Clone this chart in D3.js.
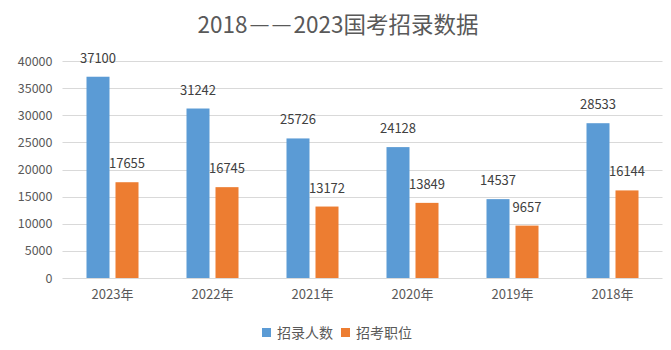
<!DOCTYPE html>
<html>
<head>
<meta charset="utf-8">
<script src="https://cdn.jsdelivr.net/npm/d3@7"></script>
<style>
  html, body { margin: 0; padding: 0; background: #fff; }
  svg { display: block; font-family: "Noto Sans CJK SC", "Noto Sans", sans-serif; }
</style>
</head>
<body>
<svg id="chart" width="671" height="350"></svg>
<script>
// Recruitment figures, national civil service exam, by year
const categories = ["2023年", "2022年", "2021年", "2020年", "2019年", "2018年"];
const seriesNames = ["招录人数", "招考职位"];
const recruits = [37100, 31242, 25726, 24128, 14537, 28533];
const positions = [17655, 16745, 13172, 13849, 9657, 16144];
const yTicks = [0, 5000, 10000, 15000, 20000, 25000, 30000, 35000, 40000];
const colors = ["#5B9BD5", "#ED7D31"];
const titleParts = ["2018", "—", "—", "2023国考招录数据"];

const svg = d3.select("#chart");
const plot = { left: 62.5, right: 662.5, top: 61, bottom: 278 };

const x0 = d3.scaleBand().domain(categories).range([plot.left, plot.right]);
const x1 = d3.scaleBand().domain(seriesNames).range([24, 76]).paddingInner(0.207);
const y = d3.scaleLinear().domain([0, 40000]).range([plot.bottom, plot.top]);

// title; the two dashes are set in their own spans with a small gap between them
const title = svg.append("text")
  .attr("x", 338).attr("y", 33)
  .attr("text-anchor", "middle")
  .attr("font-size", 22.5)
  .attr("fill", "#595959");
titleParts.forEach((t, i) => {
  const span = title.append("tspan").text(t);
  if (t === "—") {
    span.attr("font-family", "'DejaVu Sans', sans-serif")
      .attr("font-size", 20)
      .attr("dx", 2)
      .attr("dy", i === 1 ? -2 : 0);
  } else if (i > 0) {
    span.attr("dx", 2).attr("dy", 2);
  }
});

// horizontal gridlines
svg.append("g")
  .selectAll("line")
  .data(yTicks)
  .join("line")
  .attr("x1", plot.left).attr("x2", plot.right)
  .attr("y1", d => Math.round(y(d)) + 0.5).attr("y2", d => Math.round(y(d)) + 0.5)
  .attr("stroke", "#d9d9d9").attr("stroke-width", 1);

// y axis labels
const yAxis = d3.axisLeft(y).tickValues(yTicks).tickSize(0).tickPadding(10).tickFormat(d3.format("d"));
svg.append("g")
  .attr("transform", `translate(${plot.left},0)`)
  .call(yAxis)
  .call(g => g.select(".domain").remove())
  .call(g => g.selectAll("text")
    .attr("fill", "#595959")
    .attr("font-size", 12.5)
    .attr("font-family", "'Noto Sans CJK SC', sans-serif"));

// x axis labels
const xAxis = d3.axisBottom(x0).tickSize(0).tickPadding(12);
svg.append("g")
  .attr("transform", `translate(0,${plot.bottom})`)
  .call(xAxis)
  .call(g => g.select(".domain").remove())
  .call(g => g.selectAll("text")
    .attr("fill", "#595959")
    .attr("font-size", 13)
    .attr("font-family", "'Noto Sans CJK SC', sans-serif"));

// bars
const rows = categories.map((c, i) => ({ cat: c, vals: [recruits[i], positions[i]] }));
const groups = svg.append("g")
  .selectAll("g")
  .data(rows)
  .join("g")
  .attr("transform", d => `translate(${x0(d.cat)},0)`);

groups.selectAll("rect")
  .data(d => d.vals.map((v, k) => ({ name: seriesNames[k], v, k })))
  .join("rect")
  .attr("x", d => x1(d.name))
  .attr("width", x1.bandwidth())
  .attr("y", d => y(d.v))
  .attr("height", d => y(0) - y(d.v))
  .attr("fill", d => colors[d.k]);

// value labels
groups.selectAll("text.val")
  .data(d => d.vals.map((v, k) => ({ name: seriesNames[k], v, k })))
  .join("text")
  .attr("class", "val")
  .attr("x", d => x1(d.name) + x1.bandwidth() / 2)
  .attr("y", d => y(d.v) - 14)
  .attr("text-anchor", "middle")
  .attr("font-size", 13)
  .attr("fill", "#404040")
  .text(d => d.v);

// legend
const legend = svg.append("g").attr("transform", "translate(262,333)");
const legendX = [0, 79];
seriesNames.forEach((name, k) => {
  const g = legend.append("g").attr("transform", `translate(${legendX[k]},0)`);
  g.append("rect").attr("x", 0).attr("y", -5).attr("width", 9).attr("height", 9).attr("fill", colors[k]);
  g.append("text").attr("x", 15).attr("y", 5).attr("font-size", 14).attr("fill", "#595959").text(name);
});
</script>
</body>
</html>
